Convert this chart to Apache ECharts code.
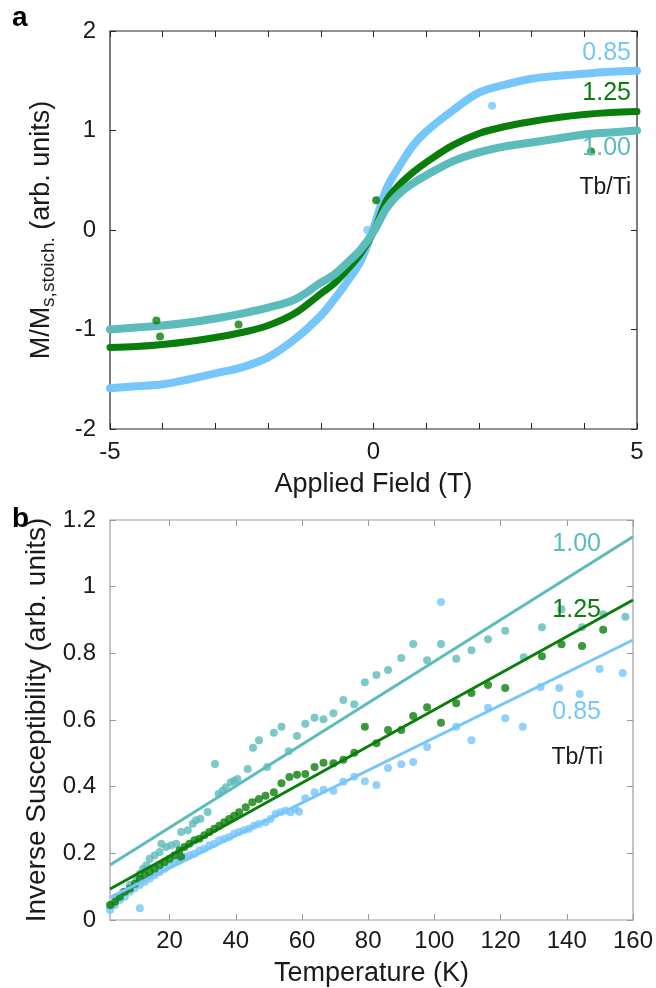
<!DOCTYPE html>
<html><head><meta charset="utf-8">
<script src="https://cdn.jsdelivr.net/npm/echarts@6/dist/echarts.min.js"></script>
<style>html,body{margin:0;padding:0;background:#fff}#c{width:656px;height:988px}</style>
</head><body><div id="c"></div>
<script>
// ---------- Panel a: magnetisation vs applied field ----------
const fieldH = [-5,-4.5,-4,-3.5,-3,-2.5,-2,-1.5,-1,-0.75,-0.5,-0.25,0,0.25,0.5,0.75,1,1.5,2,2.5,3,3.5,4,4.5,5];
const m085 = [-1.59,-1.57,-1.55,-1.50,-1.44,-1.38,-1.28,-1.10,-0.86,-0.70,-0.52,-0.32,0.02,0.42,0.65,0.85,0.99,1.20,1.38,1.46,1.52,1.55,1.57,1.59,1.60];
const m125 = [-1.18,-1.17,-1.15,-1.12,-1.08,-1.03,-0.96,-0.84,-0.64,-0.54,-0.40,-0.24,-0.02,0.30,0.46,0.58,0.68,0.85,0.97,1.04,1.09,1.13,1.16,1.18,1.19];
const m100 = [-1.00,-0.98,-0.96,-0.93,-0.89,-0.84,-0.78,-0.70,-0.53,-0.45,-0.33,-0.20,-0.02,0.22,0.37,0.47,0.55,0.69,0.78,0.84,0.88,0.92,0.96,0.98,1.00];
const outH085 = [2.25, 0.1, -0.12];
const outM085 = [1.25, 0.30, 0.0];
const outH125 = [4.13, -4.12, -4.05, -2.56, 0.05];
const outM125 = [0.79, -0.91, -1.07, -0.95, 0.30];
const fieldTicks = [-5, 0, 5];
const magTicks = [-2, -1, 0, 1, 2];

// ---------- Panel b: inverse susceptibility vs temperature ----------
const temp100 = [2.5,4,6,8,10,11,12,13,14,15.5,17,17.5,19,20.5,22,23.5,25.5,27,28,29.3,31.5,33.7,34.8,36,37,38.5,39.5,40.5,43.6,45.2,47,49.5,51.5,53.8,56,58.5,61,63.8,66.5,69.5,72.5,75.8,79,82.5,86,90,93.6,97.8,102,106.6,111.2,116.2,121.4,127,132.5,138.4,144.6,151,157.7];
const chi100 = [0.045,0.065,0.085,0.105,0.125,0.139,0.154,0.164,0.184,0.194,0.204,0.229,0.219,0.224,0.229,0.264,0.269,0.289,0.299,0.304,0.324,0.468,0.378,0.388,0.398,0.413,0.418,0.423,0.453,0.517,0.539,0.459,0.562,0.58,0.506,0.552,0.589,0.607,0.602,0.62,0.66,0.647,0.713,0.735,0.75,0.786,0.828,0.779,0.828,0.784,0.809,0.842,0.868,0.788,0.878,0.932,0.878,0.917,0.91];
const temp125 = [2,3.5,5,6.5,8,9.5,11,12.5,14,15.5,17,18.5,20,21.5,23,23.5,24.5,26,27.5,29,30.5,32,33.5,35,36.5,38,39.5,41,43,45,47,49,51.5,53.8,56.2,58.5,61,63.8,66.5,69.5,72.5,75.8,79,82.5,86,90,93.6,97.8,102,106.6,111.2,116.2,121.4,132.5,138.4,144.6,151];
const chi125 = [0.045,0.055,0.07,0.085,0.094,0.109,0.124,0.134,0.144,0.154,0.164,0.174,0.184,0.194,0.209,0.189,0.219,0.229,0.239,0.244,0.254,0.264,0.274,0.283,0.293,0.303,0.313,0.323,0.338,0.353,0.363,0.373,0.383,0.41,0.429,0.436,0.438,0.459,0.472,0.47,0.481,0.502,0.58,0.53,0.57,0.57,0.612,0.638,0.592,0.65,0.681,0.705,0.696,0.791,0.827,0.822,0.871];
const temp085 = [2,3.5,5,6.5,8,9.5,11,11,12.5,14,15.5,17,18.5,20,21.5,23,24.5,26,27.5,29,30.5,32,33.5,35,36.5,38,39.5,41,42.5,44,45.5,47,49,50.5,52,53.5,55,56.5,58,59.1,61,63.8,66.5,69.5,72.5,75.8,79,82.5,86,90,93.6,97.8,102,106.6,111.2,116.2,121.4,126.7,132.1,137.7,143.9,149.9,156.9];
const chi085 = [0.03,0.045,0.06,0.07,0.085,0.095,0.105,0.035,0.114,0.124,0.134,0.144,0.154,0.164,0.174,0.179,0.189,0.194,0.199,0.209,0.214,0.224,0.229,0.239,0.244,0.249,0.259,0.264,0.269,0.274,0.283,0.288,0.293,0.303,0.318,0.323,0.328,0.323,0.333,0.325,0.365,0.383,0.391,0.388,0.415,0.43,0.416,0.405,0.456,0.467,0.474,0.519,0.954,0.58,0.539,0.637,0.605,0.58,0.699,0.696,0.678,0.753,0.741];
// linear fits (end points)
const fitT = [2, 160];
const fit100 = [0.165, 1.15];
const fit125 = [0.093, 0.96];
const fit085 = [0.068, 0.84];
const tempTicks = [20,40,60,80,100,120,140,160];
const chiTicks = [0,0.2,0.4,0.6,0.8,1,1.2];

const labelsA = ['0.85','1.25','1.00','Tb/Ti'];
const labelsB = ['1.00','1.25','0.85','Tb/Ti'];

const C085 = '#75C6FA', C125 = '#0A7E0A', C100 = '#5CBBBB';
const FONT = 'Liberation Sans, Arial, sans-serif';
const TXT = '#1a1a1a';

const zip = (a, b) => a.map((v, i) => [v, b[i]]);

const chart = echarts.init(document.getElementById('c'), null, {renderer: 'canvas'});

const tickStyleA = {show: true, inside: true, length: 6, lineStyle: {color: '#262626', width: 1}};
const tickStyleB = {show: true, inside: true, length: 6, lineStyle: {color: '#9a9a9a', width: 1}};
const lblStyle = {fontFamily: FONT, fontSize: 24, color: TXT};
const noLine = {show: false, onZero: false};

const option = {
  animation: false,
  backgroundColor: '#fff',
  grid: [
    {left: 110, right: 19, top: 31, height: 398, show: true, borderColor: '#262626', borderWidth: 1.2},
    {left: 110, right: 19, top: 520, height: 402, show: true, borderColor: '#a0a0a0', borderWidth: 1.2}
  ],
  xAxis: [
    {gridIndex: 0, type: 'value', min: -5, max: 5, interval: 1, position: 'bottom',
     axisLine: noLine, axisTick: tickStyleA, splitLine: {show: false},
     axisLabel: Object.assign({margin: 11, formatter: v => fieldTicks.includes(v) ? String(v) : ''}, lblStyle),
     name: 'Applied Field (T)', nameLocation: 'middle', nameGap: 42,
     nameTextStyle: {fontFamily: FONT, fontSize: 27, color: TXT}},
    {gridIndex: 0, type: 'value', min: -5, max: 5, interval: 1, position: 'top',
     axisLine: noLine, axisTick: tickStyleA, axisLabel: {show: false}, splitLine: {show: false}},
    {gridIndex: 1, type: 'value', min: 2, max: 160, position: 'bottom',
     axisLine: noLine, splitLine: {show: false},
     axisTick: Object.assign({customValues: tempTicks}, tickStyleB),
     axisLabel: Object.assign({margin: 9, customValues: tempTicks}, lblStyle),
     name: 'Temperature (K)', nameLocation: 'middle', nameGap: 40,
     nameTextStyle: {fontFamily: FONT, fontSize: 27, color: TXT}},
    {gridIndex: 1, type: 'value', min: 2, max: 160, position: 'top',
     axisLine: noLine, splitLine: {show: false},
     axisTick: Object.assign({customValues: tempTicks}, tickStyleB),
     axisLabel: {show: false}}
  ],
  yAxis: [
    {gridIndex: 0, type: 'value', min: -2, max: 2, interval: 1, position: 'left',
     axisLine: noLine, axisTick: tickStyleA, splitLine: {show: false},
     axisLabel: Object.assign({margin: 14, formatter: v => magTicks.includes(v) ? String(v) : ''}, lblStyle),
     name: 'M/M{sub|s,stoich.} (arb. units)', nameLocation: 'middle', nameGap: 52,
     nameTextStyle: {fontFamily: FONT, fontSize: 27, color: TXT, lineHeight: 32,
       rich: {sub: {fontFamily: FONT, fontSize: 19, color: TXT, verticalAlign: 'bottom'}}}},
    {gridIndex: 0, type: 'value', min: -2, max: 2, interval: 1, position: 'right',
     axisLine: noLine, axisTick: tickStyleA, axisLabel: {show: false}, splitLine: {show: false}},
    {gridIndex: 1, type: 'value', min: 0, max: 1.2, interval: 0.2, position: 'left',
     axisLine: noLine, axisTick: tickStyleB, splitLine: {show: false},
     axisLabel: Object.assign({margin: 14, formatter: v => String(Math.round(v * 10) / 10)}, lblStyle),
     name: 'Inverse Susceptibility (arb. units)', nameLocation: 'middle', nameGap: 54,
     nameTextStyle: {fontFamily: FONT, fontSize: 28, color: TXT}},
    {gridIndex: 1, type: 'value', min: 0, max: 1.2, interval: 0.2, position: 'right',
     axisLine: noLine, axisTick: tickStyleB, axisLabel: {show: false}, splitLine: {show: false}}
  ],
  series: [
    {type: 'line', xAxisIndex: 0, yAxisIndex: 0, data: zip(fieldH, m085), smooth: 0.35, showSymbol: false,
     lineStyle: {color: C085, width: 8, cap: 'round', join: 'round'}, z: 2},
    {type: 'scatter', xAxisIndex: 0, yAxisIndex: 0, data: zip(outH085, outM085), symbolSize: 8, itemStyle: {color: C085}, z: 2},
    {type: 'line', xAxisIndex: 0, yAxisIndex: 0, data: zip(fieldH, m125), smooth: 0.35, showSymbol: false,
     lineStyle: {color: C125, width: 7, cap: 'round', join: 'round'}, z: 3},
    {type: 'scatter', xAxisIndex: 0, yAxisIndex: 0, data: zip(outH125, outM125), symbolSize: 8, itemStyle: {color: C125}, z: 5},
    {type: 'line', xAxisIndex: 0, yAxisIndex: 0, data: zip(fieldH, m100), smooth: 0.35, showSymbol: false,
     lineStyle: {color: C100, width: 8, cap: 'round', join: 'round'}, z: 4},
    {type: 'scatter', xAxisIndex: 2, yAxisIndex: 2, data: zip(temp085, chi085), symbolSize: 8, itemStyle: {color: C085}, z: 2},
    {type: 'scatter', xAxisIndex: 2, yAxisIndex: 2, data: zip(temp100, chi100), symbolSize: 8, itemStyle: {color: C100}, z: 3},
    {type: 'scatter', xAxisIndex: 2, yAxisIndex: 2, data: zip(temp125, chi125), symbolSize: 8, itemStyle: {color: C125}, z: 4},
    {type: 'line', xAxisIndex: 2, yAxisIndex: 2, data: zip(fitT, fit085), showSymbol: false, lineStyle: {color: C085, width: 3}, z: 6},
    {type: 'line', xAxisIndex: 2, yAxisIndex: 2, data: zip(fitT, fit100), showSymbol: false, lineStyle: {color: C100, width: 3}, z: 6},
    {type: 'line', xAxisIndex: 2, yAxisIndex: 2, data: zip(fitT, fit125), showSymbol: false, lineStyle: {color: C125, width: 3}, z: 6}
  ],
  graphic: [
    {type: 'text', left: 12, top: 4, style: {text: 'a', font: 'bold 28px ' + FONT, fill: '#000'}},
    {type: 'text', left: 12, top: 505, style: {text: 'b', font: 'bold 28px ' + FONT, fill: '#000'}},
    {type: 'text', x: 631, y: 53, style: {text: labelsA[0], font: '25px ' + FONT, fill: C085, align: 'right', verticalAlign: 'middle'}, z: 10},
    {type: 'text', x: 631, y: 93, style: {text: labelsA[1], font: '25px ' + FONT, fill: C125, align: 'right', verticalAlign: 'middle'}, z: 10},
    {type: 'text', x: 631, y: 148, style: {text: labelsA[2], font: '25px ' + FONT, fill: C100, align: 'right', verticalAlign: 'middle'}, z: 10},
    {type: 'text', x: 631, y: 188, style: {text: labelsA[3], font: '23px ' + FONT, fill: TXT, align: 'right', verticalAlign: 'middle'}, z: 10},
    {type: 'text', x: 601, y: 544, style: {text: labelsB[0], font: '25px ' + FONT, fill: C100, align: 'right', verticalAlign: 'middle'}, z: 10},
    {type: 'text', x: 601, y: 610, style: {text: labelsB[1], font: '25px ' + FONT, fill: C125, align: 'right', verticalAlign: 'middle'}, z: 10},
    {type: 'text', x: 601, y: 712, style: {text: labelsB[2], font: '25px ' + FONT, fill: C085, align: 'right', verticalAlign: 'middle'}, z: 10},
    {type: 'text', x: 603, y: 758, style: {text: labelsB[3], font: '23px ' + FONT, fill: TXT, align: 'right', verticalAlign: 'middle'}, z: 10}
  ]
};
chart.setOption(option);
</script>
</body></html>
